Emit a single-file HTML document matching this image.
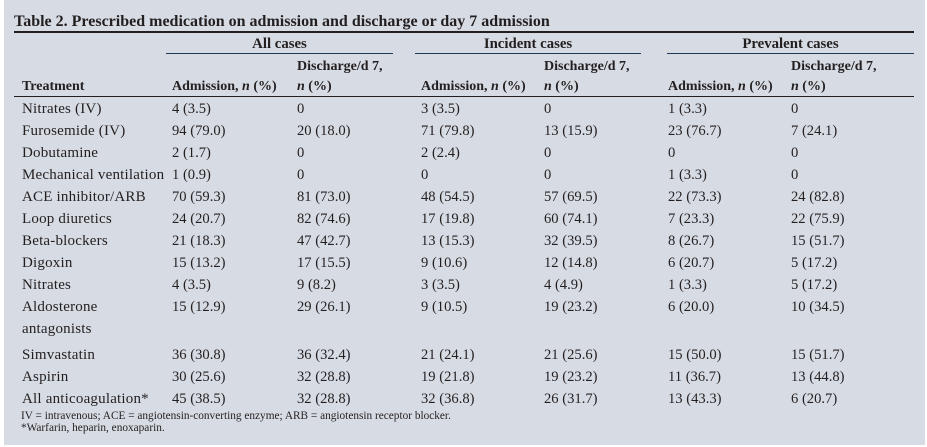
<!DOCTYPE html>
<html><head><meta charset="utf-8"><style>
html,body{margin:0;padding:0;background:#fff;}
body{width:927px;height:447px;position:relative;overflow:hidden;font-family:"Liberation Serif",serif;color:#231f20;}
#p{position:absolute;left:4px;top:0;width:921px;height:445px;background:#d7dce4;}
.t{position:absolute;white-space:nowrap;font-size:14.6px;line-height:22px;}
.l{font-size:15px;letter-spacing:0.2px;}
.b{font-weight:bold;font-size:14px;}
.h{position:absolute;height:1px;background:#231f20;}
.g{position:absolute;height:1px;background:#1f3656;}
.c{text-align:center;}
.gh{font-size:14.8px;}
.f{position:absolute;white-space:nowrap;font-size:11.3px;line-height:12px;}
</style></head><body>
<div id="p"></div>
<div class="t b" style="left:14px;top:11px;font-size:16px;">Table 2. Prescribed medication on admission and discharge or day 7 admission</div>
<div class="h" style="left:14px;top:31px;width:900px;height:2px;"></div>

<div class="t b c gh" style="left:166px;top:33px;width:227px;">All cases</div>
<div class="t b c gh" style="left:415px;top:33px;width:226px;">Incident cases</div>
<div class="t b c gh" style="left:667px;top:33px;width:247px;">Prevalent cases</div>
<div class="g" style="left:166px;top:53px;width:227px;"></div>
<div class="g" style="left:415px;top:53px;width:226px;"></div>
<div class="g" style="left:667px;top:53px;width:247px;"></div>

<div class="t b" style="left:297px;top:56px;">Discharge/d 7,</div>
<div class="t b" style="left:544px;top:56px;">Discharge/d 7,</div>
<div class="t b" style="left:791px;top:56px;">Discharge/d 7,</div>

<div class="t b" style="left:22px;top:76px;">Treatment</div>
<div class="t b" style="left:172px;top:76px;">Admission, <i>n</i> (%)</div>
<div class="t b" style="left:297px;top:76px;"><i>n</i> (%)</div>
<div class="t b" style="left:421px;top:76px;">Admission, <i>n</i> (%)</div>
<div class="t b" style="left:544px;top:76px;"><i>n</i> (%)</div>
<div class="t b" style="left:668px;top:76px;">Admission, <i>n</i> (%)</div>
<div class="t b" style="left:791px;top:76px;"><i>n</i> (%)</div>
<div class="h" style="left:14px;top:96px;width:900px;"></div>

<!-- rows -->
<div class="t l" style="left:22px;top:98px;">Nitrates (IV)</div>
<div class="t" style="left:172px;top:98px;">4 (3.5)</div>
<div class="t" style="left:297px;top:98px;">0</div>
<div class="t" style="left:421px;top:98px;">3 (3.5)</div>
<div class="t" style="left:544px;top:98px;">0</div>
<div class="t" style="left:668px;top:98px;">1 (3.3)</div>
<div class="t" style="left:791px;top:98px;">0</div>

<div class="t l" style="left:22px;top:120px;">Furosemide (IV)</div>
<div class="t" style="left:172px;top:120px;">94 (79.0)</div>
<div class="t" style="left:297px;top:120px;">20 (18.0)</div>
<div class="t" style="left:421px;top:120px;">71 (79.8)</div>
<div class="t" style="left:544px;top:120px;">13 (15.9)</div>
<div class="t" style="left:668px;top:120px;">23 (76.7)</div>
<div class="t" style="left:791px;top:120px;">7 (24.1)</div>

<div class="t l" style="left:22px;top:142px;">Dobutamine</div>
<div class="t" style="left:172px;top:142px;">2 (1.7)</div>
<div class="t" style="left:297px;top:142px;">0</div>
<div class="t" style="left:421px;top:142px;">2 (2.4)</div>
<div class="t" style="left:544px;top:142px;">0</div>
<div class="t" style="left:668px;top:142px;">0</div>
<div class="t" style="left:791px;top:142px;">0</div>

<div class="t l" style="left:22px;top:164px;">Mechanical ventilation</div>
<div class="t" style="left:172px;top:164px;">1 (0.9)</div>
<div class="t" style="left:297px;top:164px;">0</div>
<div class="t" style="left:421px;top:164px;">0</div>
<div class="t" style="left:544px;top:164px;">0</div>
<div class="t" style="left:668px;top:164px;">1 (3.3)</div>
<div class="t" style="left:791px;top:164px;">0</div>

<div class="t l" style="left:22px;top:186px;">ACE inhibitor/ARB</div>
<div class="t" style="left:172px;top:186px;">70 (59.3)</div>
<div class="t" style="left:297px;top:186px;">81 (73.0)</div>
<div class="t" style="left:421px;top:186px;">48 (54.5)</div>
<div class="t" style="left:544px;top:186px;">57 (69.5)</div>
<div class="t" style="left:668px;top:186px;">22 (73.3)</div>
<div class="t" style="left:791px;top:186px;">24 (82.8)</div>

<div class="t l" style="left:22px;top:208px;">Loop diuretics</div>
<div class="t" style="left:172px;top:208px;">24 (20.7)</div>
<div class="t" style="left:297px;top:208px;">82 (74.6)</div>
<div class="t" style="left:421px;top:208px;">17 (19.8)</div>
<div class="t" style="left:544px;top:208px;">60 (74.1)</div>
<div class="t" style="left:668px;top:208px;">7 (23.3)</div>
<div class="t" style="left:791px;top:208px;">22 (75.9)</div>

<div class="t l" style="left:22px;top:230px;">Beta-blockers</div>
<div class="t" style="left:172px;top:230px;">21 (18.3)</div>
<div class="t" style="left:297px;top:230px;">47 (42.7)</div>
<div class="t" style="left:421px;top:230px;">13 (15.3)</div>
<div class="t" style="left:544px;top:230px;">32 (39.5)</div>
<div class="t" style="left:668px;top:230px;">8 (26.7)</div>
<div class="t" style="left:791px;top:230px;">15 (51.7)</div>

<div class="t l" style="left:22px;top:252px;">Digoxin</div>
<div class="t" style="left:172px;top:252px;">15 (13.2)</div>
<div class="t" style="left:297px;top:252px;">17 (15.5)</div>
<div class="t" style="left:421px;top:252px;">9 (10.6)</div>
<div class="t" style="left:544px;top:252px;">12 (14.8)</div>
<div class="t" style="left:668px;top:252px;">6 (20.7)</div>
<div class="t" style="left:791px;top:252px;">5 (17.2)</div>

<div class="t l" style="left:22px;top:274px;">Nitrates</div>
<div class="t" style="left:172px;top:274px;">4 (3.5)</div>
<div class="t" style="left:297px;top:274px;">9 (8.2)</div>
<div class="t" style="left:421px;top:274px;">3 (3.5)</div>
<div class="t" style="left:544px;top:274px;">4 (4.9)</div>
<div class="t" style="left:668px;top:274px;">1 (3.3)</div>
<div class="t" style="left:791px;top:274px;">5 (17.2)</div>

<div class="t l" style="left:22px;top:296px;">Aldosterone</div>
<div class="t l" style="left:22px;top:318px;">antagonists</div>
<div class="t" style="left:172px;top:296px;">15 (12.9)</div>
<div class="t" style="left:297px;top:296px;">29 (26.1)</div>
<div class="t" style="left:421px;top:296px;">9 (10.5)</div>
<div class="t" style="left:544px;top:296px;">19 (23.2)</div>
<div class="t" style="left:668px;top:296px;">6 (20.0)</div>
<div class="t" style="left:791px;top:296px;">10 (34.5)</div>

<div class="t l" style="left:22px;top:344px;">Simvastatin</div>
<div class="t" style="left:172px;top:344px;">36 (30.8)</div>
<div class="t" style="left:297px;top:344px;">36 (32.4)</div>
<div class="t" style="left:421px;top:344px;">21 (24.1)</div>
<div class="t" style="left:544px;top:344px;">21 (25.6)</div>
<div class="t" style="left:668px;top:344px;">15 (50.0)</div>
<div class="t" style="left:791px;top:344px;">15 (51.7)</div>

<div class="t l" style="left:22px;top:366px;">Aspirin</div>
<div class="t" style="left:172px;top:366px;">30 (25.6)</div>
<div class="t" style="left:297px;top:366px;">32 (28.8)</div>
<div class="t" style="left:421px;top:366px;">19 (21.8)</div>
<div class="t" style="left:544px;top:366px;">19 (23.2)</div>
<div class="t" style="left:668px;top:366px;">11 (36.7)</div>
<div class="t" style="left:791px;top:366px;">13 (44.8)</div>

<div class="t l" style="left:22px;top:388px;">All anticoagulation*</div>
<div class="t" style="left:172px;top:388px;">45 (38.5)</div>
<div class="t" style="left:297px;top:388px;">32 (28.8)</div>
<div class="t" style="left:421px;top:388px;">32 (36.8)</div>
<div class="t" style="left:544px;top:388px;">26 (31.7)</div>
<div class="t" style="left:668px;top:388px;">13 (43.3)</div>
<div class="t" style="left:791px;top:388px;">6 (20.7)</div>

<div class="f" style="left:21px;top:410px;">IV = intravenous; ACE = angiotensin-converting enzyme; ARB = angiotensin receptor blocker.</div>
<div class="f" style="left:21px;top:422px;">*Warfarin, heparin, enoxaparin.</div>
</body></html>
